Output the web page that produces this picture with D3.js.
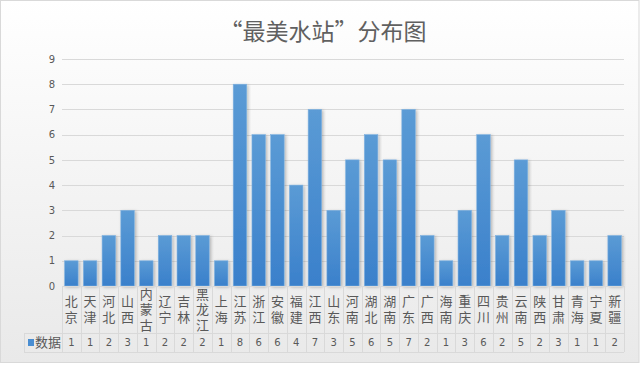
<!DOCTYPE html>
<html><head><meta charset="utf-8">
<script src="https://cdn.jsdelivr.net/npm/d3@7"></script>
<style>body{margin:0;background:#fff;}svg{display:block;}</style>
</head><body>
<script>
const categories = ["北京","天津","河北","山西","内蒙古","辽宁","吉林","黑龙江","上海","江苏","浙江","安徽","福建","江西","山东","河南","湖北","湖南","广东","广西","海南","重庆","四川","贵州","云南","陕西","甘肃","青海","宁夏","新疆"];
const values = [1,1,2,3,1,2,2,2,1,8,6,6,4,7,3,5,6,5,7,2,1,3,6,2,5,2,3,1,1,2];
const yTicks = [0,1,2,3,4,5,6,7,8,9];
const seriesName = "数据";
const title = "“最美水站”分布图";

(function(){
const W = 640, H = 369;
const font = "'Noto Sans CJK SC', 'Noto Sans', sans-serif";
const svg = d3.select("body").append("svg").attr("width", W).attr("height", H);
const defs = svg.append("defs");
const bg = defs.append("linearGradient").attr("id","bg").attr("x1",0).attr("y1",0).attr("x2",0).attr("y2",1);
bg.append("stop").attr("offset","0%").attr("stop-color","#ffffff");
bg.append("stop").attr("offset","100%").attr("stop-color","#e9e9e9");
const bar = defs.append("linearGradient").attr("id","bar").attr("x1",0).attr("y1",0).attr("x2",0).attr("y2",1);
bar.append("stop").attr("offset","0%").attr("stop-color","#5b9bd5");
bar.append("stop").attr("offset","100%").attr("stop-color","#3a80cb");
const sh = defs.append("filter").attr("id","sh").attr("x","-30%").attr("y","-10%").attr("width","160%").attr("height","130%");
sh.append("feDropShadow").attr("dx",1.5).attr("dy",1).attr("stdDeviation",1.5).attr("flood-color","#000").attr("flood-opacity",0.25);

svg.append("rect").attr("x",0.5).attr("y",0.5).attr("width",638.5).attr("height",362)
  .attr("fill","url(#bg)").attr("stroke","#d9d9d9");

svg.append("text").attr("x",323).attr("y",40).attr("text-anchor","middle")
  .attr("font-family",font).attr("font-size",23).attr("fill","#606060").text(title);

const pl = 62, pr = 624, pt = 59, pb = 286;
const x = d3.scaleBand().domain(categories).range([pl,pr]).paddingInner(0.28).paddingOuter(0.14);
const xc = d3.scaleBand().domain(categories).range([pl,pr]);
const y = d3.scaleLinear().domain([0,9]).range([pb,pt]);

svg.append("g").selectAll("line").data(yTicks.slice(1)).join("line")
  .attr("x1",pl).attr("x2",pr).attr("y1",d=>Math.round(y(d))+0.5).attr("y2",d=>Math.round(y(d))+0.5)
  .attr("stroke","#d9d9d9").attr("stroke-width",1);

const yAxis = d3.axisLeft(y).tickValues(yTicks).tickSize(0).tickPadding(0).tickFormat(d3.format("d"));
const ya = svg.append("g").attr("transform",`translate(${pl-7},0)`).call(yAxis);
ya.select(".domain").remove();
ya.selectAll("text").attr("font-family","'DejaVu Sans', sans-serif").attr("font-size",10).attr("fill","#595959");

svg.append("g").selectAll("rect").data(values).join("rect")
  .attr("x",(d,i)=>x(categories[i])).attr("width",x.bandwidth())
  .attr("y",d=>y(d)).attr("height",d=>y(0)-y(d))
  .attr("fill","url(#bar)").attr("stroke","#7fb1e0").attr("stroke-width",0.6)
  .attr("filter","url(#sh)");

const tblTop = pb, rowMid = 333, tblBot = 352, tblLeft = 24;
const g = svg.append("g");
g.append("line").attr("x1",pl).attr("x2",pr).attr("y1",tblTop+0.5).attr("y2",tblTop+0.5).attr("stroke","#d9d9d9");
g.append("line").attr("x1",tblLeft).attr("x2",pr).attr("y1",rowMid+0.5).attr("y2",rowMid+0.5).attr("stroke","#d9d9d9");
g.append("line").attr("x1",tblLeft).attr("x2",pr).attr("y1",tblBot+0.5).attr("y2",tblBot+0.5).attr("stroke","#d9d9d9");
g.append("line").attr("x1",tblLeft+0.5).attr("x2",tblLeft+0.5).attr("y1",rowMid).attr("y2",tblBot).attr("stroke","#d9d9d9");
const bounds = categories.map(c=>xc(c)).concat([pr]);
g.selectAll("line.v").data(bounds).join("line").attr("class","v")
  .attr("x1",d=>Math.round(d)+0.5).attr("x2",d=>Math.round(d)+0.5).attr("y1",tblTop).attr("y2",tblBot)
  .attr("stroke","#d9d9d9");

// vertical category labels
g.selectAll("text.cat").data(categories).join("text").attr("class","cat")
  .attr("x",c=>xc(c)+xc.bandwidth()/2).attr("y",(tblTop+rowMid)/2+1)
  .attr("writing-mode","vertical-rl").style("text-orientation","upright")
  .attr("text-anchor","middle").attr("letter-spacing",2.5)
  .attr("font-family",font).attr("font-size",13).attr("fill","#595959").text(c=>c);

g.selectAll("text.val").data(values).join("text").attr("class","val")
  .attr("x",(d,i)=>xc(categories[i])+xc.bandwidth()/2).attr("y",(rowMid+tblBot)/2).attr("dy","0.35em")
  .attr("text-anchor","middle").attr("font-family","'DejaVu Sans', sans-serif").attr("font-size",10)
  .attr("fill","#595959").text(d=>d);
g.append("rect").attr("x",28).attr("y",339).attr("width",6).attr("height",7).attr("fill","#4a8ed2");
g.append("text").attr("x",35).attr("y",(rowMid+tblBot)/2).attr("dy","0.35em")
  .attr("font-family",font).attr("font-size",13).attr("fill","#595959").text(seriesName);
})();
</script>
</body></html>
